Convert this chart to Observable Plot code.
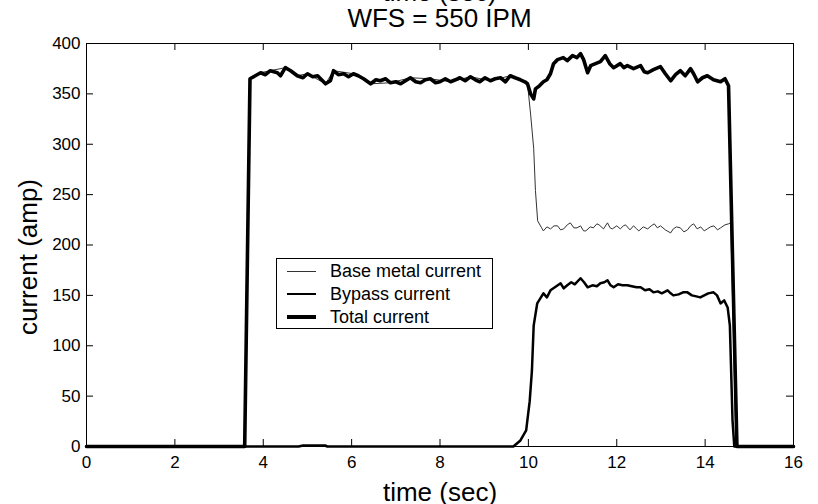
<!DOCTYPE html>
<html>
<head>
<meta charset="utf-8">
<script src="https://cdn.jsdelivr.net/npm/d3@7"></script>
<script src="https://cdn.jsdelivr.net/npm/@observablehq/plot@0.6"></script>
<style>
  html, body { margin: 0; padding: 0; background: #fff; }
  #wrap { position: relative; width: 818px; height: 504px; overflow: hidden; font-family: "Liberation Sans", Arial, sans-serif; }
  #title { position: absolute; left: 86px; width: 707px; top: -21px; text-align: center; font-size: 26px; line-height: 26px; color: #000; }
  #plot { position: absolute; left: 0; top: 33px; }
  #legend { position: absolute; left: 276px; top: 258px; width: 215px; height: 69px; border: 1px solid #000; background: #fff; font-size: 18px; }
  .row { position: absolute; left: 0; height: 20px; display: flex; align-items: center; }
  .sample { margin-left: 10px; width: 29px; background: #000; }
  .lab { margin-left: 14px; white-space: nowrap; }
</style>
</head>
<body>
<div id="wrap">
  <div id="title"><div>time (sec)</div><div>WFS = 550 IPM</div></div>
  <div id="plot"></div>
  <div id="legend"></div>
</div>
<script>
// ---- data ----
const xTicks = [0, 2, 4, 6, 8, 10, 12, 14, 16];
const yTicks = [0, 50, 100, 150, 200, 250, 300, 350, 400];

const seriesNames = ["Base metal current", "Bypass current", "Total current"];

const totalT = [0, 3.58, 3.70, 3.82, 3.94, 4.05, 4.16, 4.32, 4.39, 4.50, 4.62, 4.77, 4.90, 5.00, 5.12, 5.23, 5.41, 5.52, 5.59, 5.70, 5.82, 5.93, 6.04, 6.15, 6.27, 6.43, 6.55, 6.65, 6.77, 6.88, 7.00, 7.11, 7.22, 7.33, 7.45, 7.56, 7.67, 7.78, 7.90, 8.00, 8.12, 8.24, 8.35, 8.45, 8.57, 8.69, 8.80, 8.90, 9.02, 9.14, 9.25, 9.37, 9.48, 9.59, 9.70, 9.82, 9.92, 9.98, 10.05, 10.12, 10.16, 10.25, 10.34, 10.42, 10.50, 10.57, 10.66, 10.79, 10.88, 11.00, 11.10, 11.18, 11.25, 11.34, 11.41, 11.52, 11.63, 11.74, 11.84, 11.93, 12.08, 12.16, 12.24, 12.38, 12.54, 12.62, 12.70, 12.83, 12.99, 13.10, 13.22, 13.33, 13.44, 13.55, 13.67, 13.74, 13.83, 13.94, 14.05, 14.19, 14.35, 14.45, 14.53, 14.72, 16];
const totalV = [0, 0, 365, 368, 371, 369, 373, 371, 368, 376, 373, 368, 366, 370, 367, 368, 360, 363, 373, 369, 370, 367, 370, 368, 365, 360, 364, 363, 365, 361, 362, 360, 363, 366, 362, 361, 364, 365, 361, 362, 365, 362, 364, 366, 363, 367, 364, 362, 366, 363, 365, 366, 362, 368, 366, 364, 362, 360, 350, 345, 355, 358, 362, 364, 370, 380, 384, 386, 383, 388, 386, 390, 384, 371, 378, 380, 382, 388, 380, 376, 380, 376, 378, 375, 378, 372, 371, 374, 377, 370, 363, 369, 373, 368, 375, 370, 362, 366, 368, 364, 362, 365, 358, 0, 0];

const baseT = [0, 3.58, 3.70, 3.82, 3.94, 4.16, 4.50, 4.77, 5.00, 5.41, 5.59, 6.04, 6.43, 6.88, 7.33, 7.78, 8.24, 8.69, 9.14, 9.59, 9.82, 9.98, 10.05, 10.12, 10.16, 10.21, 10.30, 10.34, 10.42, 10.50, 10.58, 10.66, 10.73, 10.80, 10.88, 10.95, 11.03, 11.10, 11.18, 11.25, 11.30, 11.40, 11.47, 11.55, 11.60, 11.70, 11.79, 11.85, 11.90, 12.00, 12.08, 12.15, 12.20, 12.30, 12.38, 12.45, 12.50, 12.60, 12.70, 12.78, 12.85, 12.92, 12.99, 13.10, 13.22, 13.28, 13.35, 13.44, 13.52, 13.60, 13.67, 13.74, 13.82, 13.90, 13.98, 14.05, 14.12, 14.20, 14.28, 14.35, 14.45, 14.53, 14.58, 14.70, 16];
const baseV = [0, 0, 365, 368, 371, 373, 376, 368, 370, 360, 373, 370, 360, 361, 366, 365, 362, 367, 363, 368, 364, 360, 330, 296, 254, 224, 217, 214, 218, 216, 219, 219, 215, 216, 220, 222, 217, 217, 219, 214, 214, 218, 217, 221, 220, 216, 222, 217, 216, 219, 216, 219, 220, 215, 219, 216, 214, 218, 216, 219, 221, 217, 219, 215, 212, 216, 218, 217, 213, 215, 219, 221, 216, 218, 214, 216, 218, 219, 215, 217, 220, 221, 222, 0, 0];

const bypassT = [0, 4.80, 4.90, 5.40, 5.45, 5.70, 9.66, 9.82, 9.95, 10.03, 10.08, 10.12, 10.20, 10.34, 10.42, 10.50, 10.60, 10.73, 10.80, 10.88, 10.97, 11.05, 11.18, 11.26, 11.34, 11.45, 11.55, 11.63, 11.72, 11.79, 11.86, 11.93, 12.03, 12.13, 12.24, 12.34, 12.45, 12.54, 12.64, 12.74, 12.83, 12.93, 13.02, 13.15, 13.22, 13.28, 13.40, 13.50, 13.60, 13.70, 13.80, 13.89, 13.98, 14.07, 14.19, 14.27, 14.35, 14.43, 14.51, 14.56, 14.62, 14.66, 16];
const bypassV = [0, 0, 1, 1, 0, 0, 0, 6, 16, 45, 75, 120, 142, 152, 148, 155, 158, 162, 157, 160, 163, 161, 167, 163, 158, 160, 159, 162, 163, 165, 160, 158, 161, 160, 160, 159, 158, 158, 155, 156, 153, 154, 152, 155, 152, 150, 151, 153, 153, 150, 149, 148, 150, 152, 153, 150, 142, 145, 138, 120, 26, 0, 0];

const toRows = (T, V, s) => T.map((t, i) => ({t, v: V[i], s}));
const rows = [
  ...toRows(baseT, baseV, seriesNames[0]),
  ...toRows(bypassT, bypassV, seriesNames[1]),
  ...toRows(totalT, totalV, seriesNames[2])
];
const styles = {
  [seriesNames[0]]: {w: 1, c: "#333"},
  [seriesNames[1]]: {w: 2.5, c: "#000"},
  [seriesNames[2]]: {w: 3.6, c: "#000"}
};

const W = 818, H = 471, mT = 10, mB = 58, mL = 86, mR = 25;
const innerH = H - mT - mB, innerW = W - mL - mR;

const chart = Plot.plot({
  width: W, height: H,
  marginTop: mT, marginBottom: mB, marginLeft: mL, marginRight: mR,
  style: {fontFamily: "'Liberation Sans', Arial, sans-serif", fontSize: "17px", color: "#000", background: "#fff", overflow: "visible"},
  x: {domain: [0, 16]},
  y: {domain: [0, 400]},
  marks: [
    Plot.axisX({ticks: xTicks, tickSize: 0, tickPadding: 9, label: null, fontSize: 17}),
    Plot.axisY({ticks: yTicks, tickSize: 0, tickPadding: 6, label: null, fontSize: 17}),
    Plot.tickX(xTicks, {x: d => d, insetTop: innerH - 7, stroke: "#000"}),
    Plot.tickX(xTicks, {x: d => d, insetBottom: innerH - 7, stroke: "#000"}),
    Plot.tickY(yTicks, {y: d => d, insetRight: innerW - 7, stroke: "#000"}),
    Plot.tickY(yTicks, {y: d => d, insetLeft: innerW - 7, stroke: "#000"}),
    Plot.frame({stroke: "#000", strokeWidth: 1}),
    ...seriesNames.map(s => Plot.line(rows.filter(r => r.s === s), {x: "t", y: "v", stroke: styles[s].c, strokeWidth: styles[s].w, strokeLinejoin: "round"})),
    Plot.text(["time (sec)"], {frameAnchor: "bottom", lineAnchor: "middle", textAnchor: "middle", dy: 46, fontSize: 26, text: d => d}),
    Plot.text(["current (amp)"], {frameAnchor: "left", lineAnchor: "middle", textAnchor: "middle", dx: -58, dy: 12, rotate: -90, fontSize: 26, text: d => d})
  ]
});
document.getElementById("plot").appendChild(chart);

// legend
const legend = document.getElementById("legend");
const rowTops = [2, 25, 48];
seriesNames.forEach((s, i) => {
  const r = document.createElement("div");
  r.className = "row";
  r.style.top = rowTops[i] + "px";
  const sm = document.createElement("div");
  sm.className = "sample";
  sm.style.height = styles[s].w + "px";
  sm.style.background = styles[s].c;
  const lb = document.createElement("div");
  lb.className = "lab";
  lb.textContent = s;
  r.appendChild(sm); r.appendChild(lb);
  legend.appendChild(r);
});
</script>
</body>
</html>
